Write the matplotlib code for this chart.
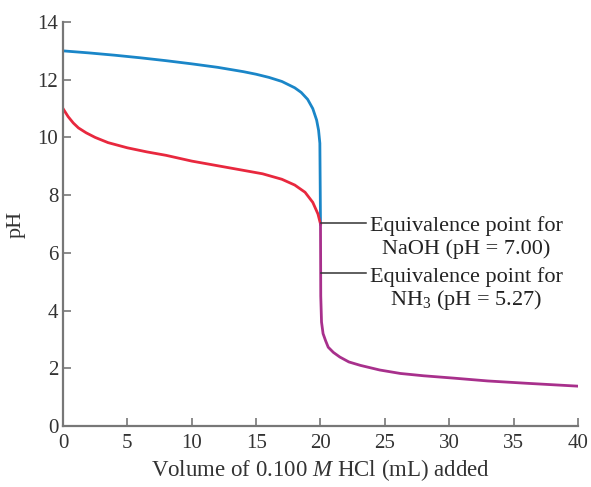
import matplotlib.pyplot as plt
import numpy as np

# NaOH titrated with 0.100 M HCl (up to the equivalence point)
naoh_vol = [0, 2, 4, 6, 8, 10, 12, 14, 15, 16, 17, 18, 18.5, 19, 19.4, 19.7, 19.85, 19.95, 20.0]
naoh_ph = [13.0, 12.93, 12.85, 12.76, 12.66, 12.55, 12.43, 12.28, 12.19, 12.08, 11.94, 11.72,
           11.56, 11.32, 11.0, 10.6, 10.25, 9.8, 7.0]

# NH3 titrated with 0.100 M HCl (up to the equivalence point)
nh3_vol = [0, 0.4, 0.8, 1.2, 1.8, 2.5, 3.5, 5, 6.5, 8, 10, 12, 14, 15.5, 17, 18, 18.8, 19.4, 19.8, 20.0]
nh3_ph = [11.0, 10.72, 10.5, 10.33, 10.16, 10.0, 9.82, 9.64, 9.5, 9.38, 9.18, 9.02, 8.86, 8.74,
          8.55, 8.35, 8.1, 7.75, 7.35, 7.0]

# common part after the equivalence point (excess HCl)
excess_vol = [20.0, 20.02, 20.08, 20.2, 20.4, 20.6, 21.0, 21.5, 22.2, 23.1, 24.6, 26.2, 28.0,
              30.3, 33.0, 36.0, 40.0]
excess_ph = [7.0, 4.5, 3.6, 3.2, 2.95, 2.73, 2.55, 2.39, 2.22, 2.1, 1.94, 1.82, 1.74, 1.66,
             1.56, 1.48, 1.38]

eq_first = ["Equivalence point for", "Equivalence point for"]
eq_second = ["NaOH (pH = 7.00)", "NH$_3$ (pH = 5.27)"]
eq_ph = [7.05, 5.29]

plt.rcParams['font.family'] = ['Liberation Serif', 'DejaVu Serif']
plt.rcParams['mathtext.fontset'] = 'custom'
plt.rcParams['mathtext.rm'] = 'Liberation Serif'
plt.rcParams['mathtext.it'] = 'Liberation Serif:italic'

fig = plt.figure(figsize=(5.91, 4.87), dpi=100)
ax = fig.add_axes([0.1066, 0.1253, 0.8714, 0.8295])

ax.plot(naoh_vol, naoh_ph, color="#1a86c8", lw=2)
ax.plot(nh3_vol, nh3_ph, color="#e8283e", lw=2)
ax.plot(excess_vol, excess_ph, color="#a8308c", lw=2)

for l1, l2, ph in zip(eq_first, eq_second, eq_ph):
    ax.plot([20.05, 23.5], [ph, ph], color="#333333", lw=1.1)
    ax.text(31.3, ph - 0.12, l1, ha="center", va="center", fontsize=16, color="#222222")
    ax.text(31.3, ph - 0.92, l2, ha="center", va="center", fontsize=16, color="#222222")

ax.set_xlim(0, 40)
ax.set_ylim(0, 14)
ax.set_xticks(np.arange(0, 41, 5))
ax.set_yticks(np.arange(0, 15, 2))
for s in ["top", "right"]:
    ax.spines[s].set_visible(False)
for s in ["left", "bottom"]:
    ax.spines[s].set_color("#777777")
    ax.spines[s].set_linewidth(1.6)
ax.tick_params(direction="in", length=6, width=1.2, color="#777777",
               labelsize=15, labelcolor="#333333")
ax.tick_params(axis="x", pad=6)
ax.set_xlabel("Volume of 0.100 $M$ HCl (mL) added", fontsize=16.5, color="#333333", labelpad=3)
ax.set_ylabel("pH", fontsize=16, color="#333333", labelpad=8)

fig.savefig("out.png", dpi=100)
